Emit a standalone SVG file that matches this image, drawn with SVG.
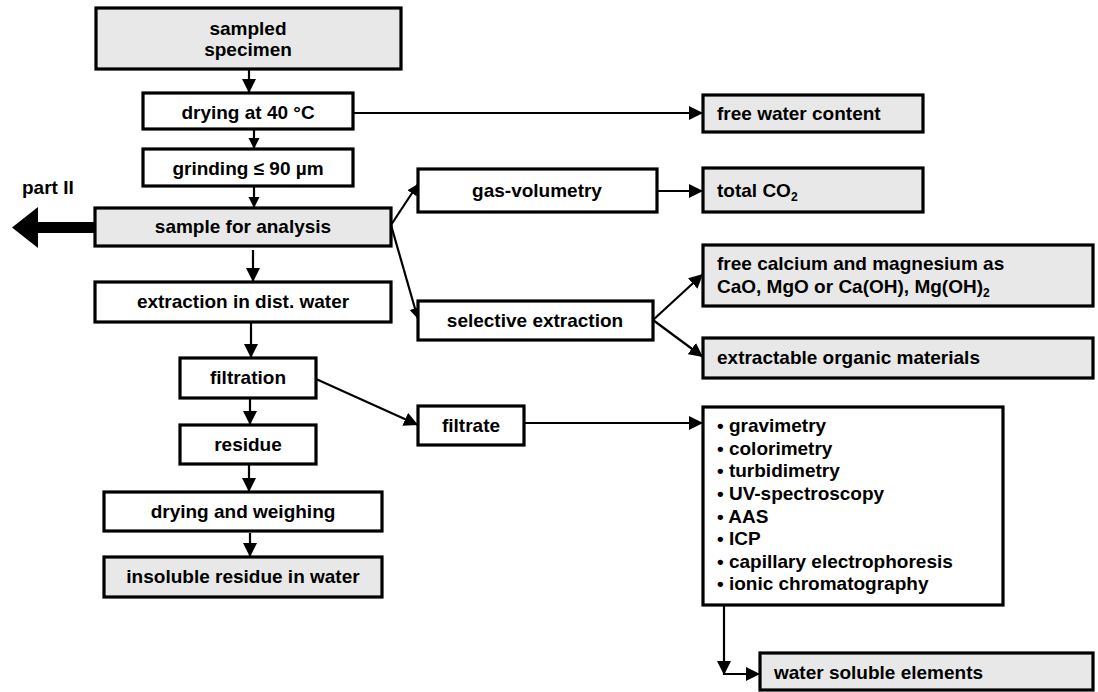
<svg xmlns="http://www.w3.org/2000/svg" width="1098" height="692" viewBox="0 0 1098 692">
<style>
  .box { fill: #ffffff; stroke: #000000; stroke-width: 3.2; }
  .grey { fill: #e8e8e8; }
  .t { font-family: "Liberation Sans", Arial, sans-serif; font-weight: bold; font-size: 19px; fill: #000000; }
  .c { text-anchor: middle; }
  .sub { font-size: 12px; }
  .con { stroke: #000000; stroke-width: 2.2; fill: none; }
</style>
<defs>
  <marker id="ah" markerUnits="userSpaceOnUse" viewBox="0 0 14 14" markerWidth="14" markerHeight="14" refX="14" refY="7" orient="auto">
    <path d="M0,0 L14,7 L0,14 z" fill="#000000"/>
  </marker>
  <marker id="ahs" markerUnits="userSpaceOnUse" viewBox="0 0 12 12" markerWidth="11" markerHeight="12" refX="12" refY="6" orient="auto">
    <path d="M0,0 L12,6 L0,12 z" fill="#000000"/>
  </marker>
</defs>
<rect width="1098" height="692" fill="#ffffff"/>

<g id="connectors">
  <line class="con" x1="249" y1="69" x2="249" y2="93" marker-end="url(#ah)"/>
  <line class="con" x1="254" y1="129" x2="254" y2="149" marker-end="url(#ahs)"/>
  <line class="con" x1="254" y1="186" x2="254" y2="208" marker-end="url(#ahs)"/>
  <line class="con" x1="253" y1="250" x2="253" y2="282" marker-end="url(#ah)"/>
  <line class="con" x1="251" y1="322" x2="251" y2="358" marker-end="url(#ah)"/>
  <line class="con" x1="250" y1="398" x2="250" y2="425" marker-end="url(#ah)"/>
  <line class="con" x1="249" y1="464" x2="249" y2="492" marker-end="url(#ah)"/>
  <line class="con" x1="250" y1="533" x2="250" y2="557" marker-end="url(#ah)"/>
  <line class="con" x1="353" y1="113" x2="703" y2="113" marker-end="url(#ah)"/>
  <line class="con" x1="391" y1="225" x2="418" y2="184" marker-end="url(#ahs)"/>
  <line class="con" x1="391" y1="225" x2="418" y2="319" marker-end="url(#ahs)"/>
  <line class="con" x1="657" y1="191" x2="703" y2="191" marker-end="url(#ah)"/>
  <line class="con" x1="653" y1="320" x2="703" y2="274" marker-end="url(#ah)"/>
  <line class="con" x1="653" y1="320" x2="703" y2="357" marker-end="url(#ah)"/>
  <line class="con" x1="316" y1="379" x2="418" y2="425" marker-end="url(#ah)"/>
  <line class="con" x1="524" y1="423" x2="703" y2="423" marker-end="url(#ah)"/>
  <line class="con" x1="724" y1="605" x2="724" y2="675" marker-end="url(#ah)"/>
  <line class="con" x1="724" y1="674" x2="760" y2="674" marker-end="url(#ah)"/>
  <path d="M95,222 L38,222 L38,207 L12,227.5 L38,248 L38,233 L95,233 z" fill="#000000"/>
  <text class="t" x="22" y="194">part II</text>
</g>

<g id="n-sampled">
  <rect class="box grey" x="96" y="8" width="305" height="61"/>
  <text class="t c" x="248" y="35">sampled</text>
  <text class="t c" x="248" y="56">specimen</text>
</g>
<g id="n-drying40">
  <rect class="box" x="143" y="93" width="210" height="36"/>
  <text class="t c" x="248" y="119">drying at 40 °C</text>
</g>
<g id="n-grinding">
  <rect class="box" x="143" y="149" width="210" height="37"/>
  <text class="t c" x="248" y="175">grinding ≤ 90 µm</text>
</g>
<g id="n-sample">
  <rect class="box grey" x="95" y="208" width="296" height="38"/>
  <text class="t c" x="243" y="233">sample for analysis</text>
</g>
<g id="n-extraction">
  <rect class="box" x="95" y="282" width="296" height="40"/>
  <text class="t c" x="243" y="308">extraction in dist. water</text>
</g>
<g id="n-filtration">
  <rect class="box" x="180" y="358" width="136" height="40"/>
  <text class="t c" x="248" y="384">filtration</text>
</g>
<g id="n-residue">
  <rect class="box" x="180" y="425" width="136" height="39"/>
  <text class="t c" x="248" y="451">residue</text>
</g>
<g id="n-dryweigh">
  <rect class="box" x="104" y="492" width="278" height="39"/>
  <text class="t c" x="243" y="518">drying and weighing</text>
</g>
<g id="n-insoluble">
  <rect class="box grey" x="104" y="557" width="278" height="40"/>
  <text class="t c" x="243" y="583">insoluble residue in water</text>
</g>
<g id="n-gas">
  <rect class="box" x="418" y="169" width="239" height="43"/>
  <text class="t c" x="537" y="197">gas-volumetry</text>
</g>
<g id="n-selective">
  <rect class="box" x="418" y="301" width="235" height="39"/>
  <text class="t c" x="535" y="327">selective extraction</text>
</g>
<g id="n-filtrate">
  <rect class="box" x="418" y="406" width="106" height="39"/>
  <text class="t c" x="471" y="432">filtrate</text>
</g>
<g id="n-freewater">
  <rect class="box grey" x="703" y="95" width="220" height="37"/>
  <text class="t" x="717" y="120">free water content</text>
</g>
<g id="n-co2">
  <rect class="box grey" x="703" y="168" width="220" height="44"/>
  <text class="t" x="717" y="197">total CO<tspan class="sub" dy="4">2</tspan></text>
</g>
<g id="n-freeca">
  <rect class="box grey" x="703" y="245" width="390" height="61"/>
  <text class="t" x="717" y="270">free calcium and magnesium as</text>
  <text class="t" x="717" y="293">CaO, MgO or Ca(OH), Mg(OH)<tspan class="sub" dy="4">2</tspan></text>
</g>
<g id="n-organic">
  <rect class="box grey" x="703" y="338" width="390" height="40"/>
  <text class="t" x="717" y="364">extractable organic materials</text>
</g>
<g id="n-methods">
  <rect class="box" x="703" y="407" width="300" height="198"/>
  <text class="t" x="717" y="432">• gravimetry</text>
  <text class="t" x="717" y="455">• colorimetry</text>
  <text class="t" x="717" y="477">• turbidimetry</text>
  <text class="t" x="717" y="500">• UV-spectroscopy</text>
  <text class="t" x="717" y="523">• AAS</text>
  <text class="t" x="717" y="545">• ICP</text>
  <text class="t" x="717" y="568">• capillary electrophoresis</text>
  <text class="t" x="717" y="590">• ionic chromatography</text>
</g>
<g id="n-watersoluble">
  <rect class="box grey" x="760" y="653" width="333" height="37"/>
  <text class="t" x="774" y="679">water soluble elements</text>
</g>
</svg>
